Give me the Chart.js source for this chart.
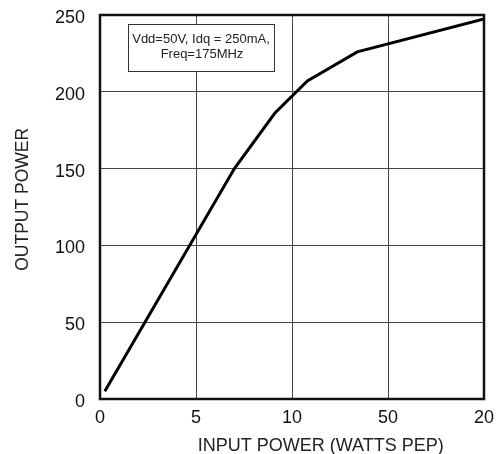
<!DOCTYPE html>
<html><head><meta charset="utf-8">
<script src="https://cdn.jsdelivr.net/npm/chart.js@4/dist/chart.umd.min.js"></script>
<style>html,body{margin:0;padding:0;background:#fff}#wrap{width:500px;height:454px}</style>
</head><body><div id="wrap"><canvas id="c" width="500" height="454"></canvas></div>
<script>
const inputPower = [0.25, 7.0, 9.1, 10.8, 13.4, 20];
const outputPower = [5, 150, 186, 207, 226, 247.5];
const xTickValues = [0, 5, 10, 15, 20];
const xTickLabels = ["0", "5", "10", "50", "20"];
const yTickValues = [0, 50, 100, 150, 200, 250];
const noteLines = ["Vdd=50V, Idq = 250mA,", "Freq=175MHz"];
const xTitle = "INPUT POWER (WATTS PEP)";
const yTitle = "OUTPUT POWER";
const FONT = "'Liberation Sans', Arial, sans-serif";

const framePlugin = {
  id: 'frame',
  afterDatasetsDraw(chart) {
    const {ctx, chartArea: a} = chart;
    ctx.save();
    ctx.strokeStyle = '#111';
    ctx.lineWidth = 2.5;
    ctx.strokeRect(a.left, a.top, a.right - a.left, a.bottom - a.top);
    // note box
    const bx = a.left + 28, by = a.top + 9, bw = 146, bh = 47;
    ctx.fillStyle = '#fff';
    ctx.fillRect(bx, by, bw, bh);
    ctx.lineWidth = 1;
    ctx.strokeStyle = '#333';
    ctx.strokeRect(bx + 0.5, by + 0.5, bw, bh);
    ctx.fillStyle = '#222';
    ctx.font = '13px ' + FONT;
    ctx.textAlign = 'center';
    ctx.textBaseline = 'middle';
    ctx.fillText(noteLines[0], bx + bw / 2, by + 15);
    ctx.fillText(noteLines[1], bx + bw / 2 + 1, by + 30);
    // axis titles
    ctx.fillStyle = '#222';
    ctx.font = '18px ' + FONT;
    ctx.fillText(xTitle, a.left + (a.right - a.left) * 0.575, 446);
    ctx.translate(23, a.top + (a.bottom - a.top) * 0.48);
    ctx.rotate(-Math.PI / 2);
    ctx.font = '17.5px ' + FONT;
    ctx.fillText(yTitle, 0, 0);
    ctx.restore();
  }
};

new Chart(document.getElementById('c'), {
  type: 'line',
  data: {
    datasets: [{
      data: inputPower.map((x, i) => ({x, y: outputPower[i]})),
      borderColor: '#000',
      borderWidth: 3,
      pointRadius: 0,
      tension: 0,
      fill: false
    }]
  },
  options: {
    responsive: false,
    animation: false,
    devicePixelRatio: 1,
    layout: {padding: {top: 15, right: 16, left: 0, bottom: 0}},
    plugins: {legend: {display: false}, tooltip: {enabled: false}},
    scales: {
      x: {
        type: 'linear', min: 0, max: 20,
        afterBuildTicks(s) { s.ticks = xTickValues.map(v => ({value: v})); },
        afterFit(s) { s.height = 55; s.paddingLeft = 0; s.paddingRight = 0; },
        grid: {color: '#444', lineWidth: 1, drawTicks: false},
        border: {display: false},
        ticks: {
          color: '#111', padding: 8, maxRotation: 0,
          font: {family: FONT, size: 18},
          callback: (v) => xTickLabels[xTickValues.indexOf(v)]
        },
        title: {display: false}
      },
      y: {
        type: 'linear', min: 0, max: 250,
        afterBuildTicks(s) { s.ticks = yTickValues.map(v => ({value: v})); },
        afterFit(s) { s.width = 100; s.paddingTop = 0; s.paddingBottom = 0; },
        grid: {color: '#444', lineWidth: 1, drawTicks: false},
        border: {display: false},
        ticks: {color: '#111', padding: 15, labelOffset: 3, font: {family: FONT, size: 18}},
        title: {display: false}
      }
    }
  },
  plugins: [framePlugin]
});
</script></body></html>
